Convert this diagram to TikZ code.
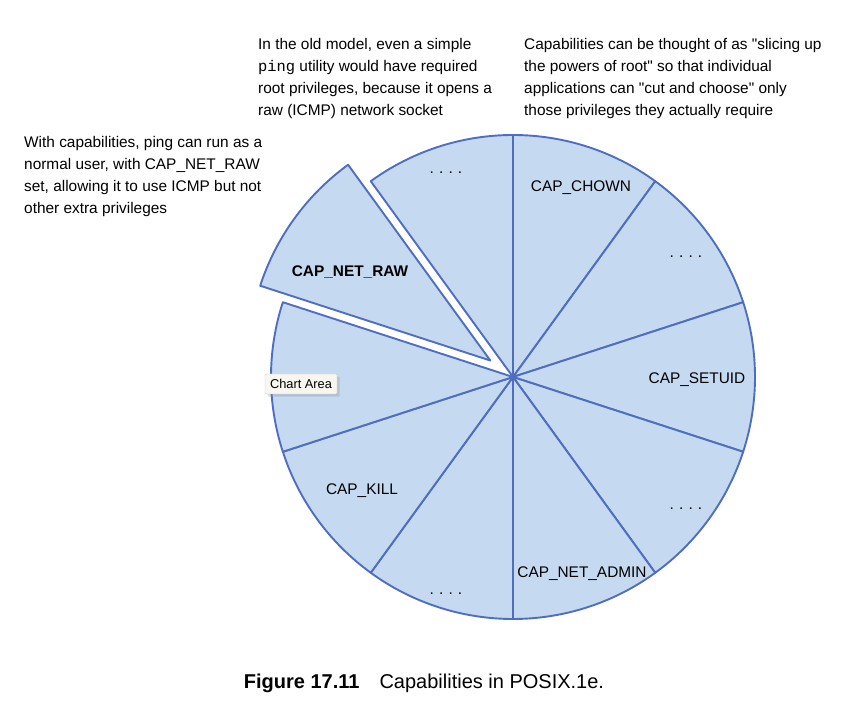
\documentclass[tikz,border=0pt]{standalone}
\usepackage{fontspec}
\setmainfont{Liberation Sans}
\setmonofont{Liberation Mono}
\usetikzlibrary{positioning}
\usetikzlibrary{shadows}
\definecolor{slicefill}{RGB}{197,217,241}
\definecolor{sliceline}{RGB}{79,110,192}
\definecolor{tipfill}{RGB}{248,246,240}

\begin{document}
\begin{tikzpicture}[x=1pt,y=1pt]
        \tikzset{slice/.style={draw=sliceline, fill=slicefill, line width=1.9pt, line join=round},
        lbl/.style={font=\fontsize{15.4}{22}\selectfont, inner sep=0pt},
        note/.style={font=\fontsize{15.4}{22}\selectfont, align=left, anchor=north west, inner sep=0pt},
        tip/.style={draw=black!20, fill=tipfill, drop shadow={opacity=0.25}, rounded corners=1pt,
        font=\fontsize{12.8}{14}\selectfont, minimum width=72pt, minimum height=20pt, inner sep=0pt}
        }
        \useasboundingbox (0,0) rectangle (844,706);
        \coordinate (c) at (513,329);  %% centre of the pie
        \coordinate (cx) at ([shift={(144:28)}]c);  %% centre of the pulled-out slice

%% slices
        \path[slice] (c) -- ++(90:242) arc[start angle=90, end angle=126, radius=242] -- cycle;
        \path[slice] (c) -- ++(54:242) arc[start angle=54, end angle=90, radius=242] -- cycle;
        \path[slice] (c) -- ++(18:242) arc[start angle=18, end angle=54, radius=242] -- cycle;
        \path[slice] (c) -- ++(-18:242) arc[start angle=-18, end angle=18, radius=242] -- cycle;
        \path[slice] (c) -- ++(-54:242) arc[start angle=-54, end angle=-18, radius=242] -- cycle;
        \path[slice] (c) -- ++(-90:242) arc[start angle=-90, end angle=-54, radius=242] -- cycle;
        \path[slice] (c) -- ++(-126:242) arc[start angle=-126, end angle=-90, radius=242] -- cycle;
        \path[slice] (c) -- ++(-162:242) arc[start angle=-162, end angle=-126, radius=242] -- cycle;
        \path[slice] (c) -- ++(162:242) arc[start angle=162, end angle=198, radius=242] -- cycle;
        \path[slice] (cx) -- ++(126:242) arc[start angle=126, end angle=162, radius=242] -- cycle;

%% slice labels
        \node [lbl] (dots1) at (446,533) {.\,\,.\,\,.\,\,.};
        \node [lbl] (chown) at (581,518) {CAP\_CHOWN};
        \node [lbl] (dots2) at (686,449) {.\,\,.\,\,.\,\,.};
        \node [lbl] (setuid) at (697,326) {CAP\_SETUID};
        \node [lbl] (dots3) at (686,197) {.\,\,.\,\,.\,\,.};
        \node [lbl] (admin) at (582,132) {CAP\_NET\_ADMIN};
        \node [lbl] (dots4) at (446,112) {.\,\,.\,\,.\,\,.};
        \node [lbl] (kill) at (362,215) {CAP\_KILL};
        \node [lbl, font=\fontsize{15.4}{22}\selectfont\bfseries] (raw) at (350,434) {CAP\_NET\_RAW};
        \node [tip] (chart) at (301,322) {Chart Area};

%% notes
        \node [note] (pingnote) at (24,570) {With capabilities, ping can run as a\\normal user, with CAP\_NET\_RAW\\set, allowing it to use ICMP but not\\other extra privileges};
        \node [note] (oldnote) at (258,668) {In the old model, even a simple\\\texttt{ping} utility would have required\\root privileges, because it opens a\\raw (ICMP) network socket};
        \node [note] (slicenote) at (524,668) {Capabilities can be thought of as \textquotedbl slicing up\\the powers of root\textquotedbl{} so that individual\\applications can \textquotedbl cut and choose\textquotedbl{} only\\those privileges they actually require};

        \node [font=\fontsize{20}{24}\selectfont] (caption) at (424,23) {\textbf{Figure 17.11}\quad Capabilities in POSIX.1e.};
\end{tikzpicture}
\end{document}
